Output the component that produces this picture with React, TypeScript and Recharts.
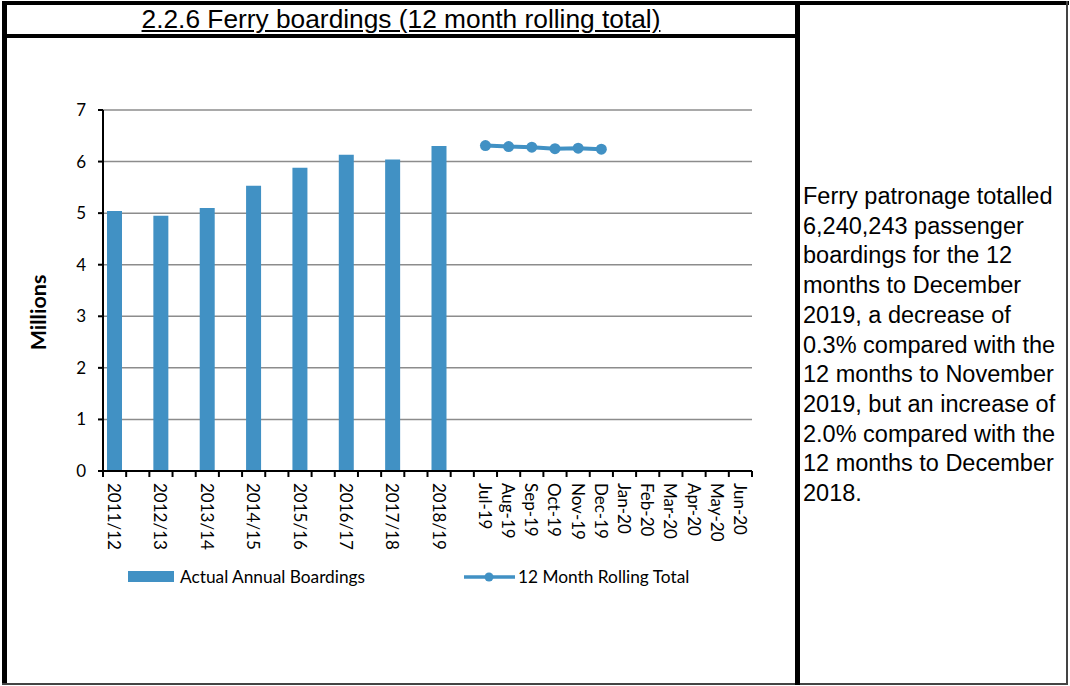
import React from "react";
import { ComposedChart, Bar, Line, XAxis, YAxis, CartesianGrid, Legend } from "recharts";

// slots on the category axis (blank slots sit between the financial years)
const periods = [
  "2011/12", "", "2012/13", "", "2013/14", "", "2014/15", "", "2015/16", "",
  "2016/17", "", "2017/18", "", "2018/19", "",
  "Jul-19", "Aug-19", "Sep-19", "Oct-19", "Nov-19", "Dec-19",
  "Jan-20", "Feb-20", "Mar-20", "Apr-20", "May-20", "Jun-20",
];

// Actual annual boardings (millions)
const annualBoardings = [
  5.04, null, 4.95, null, 5.1, null, 5.53, null, 5.88, null,
  6.13, null, 6.04, null, 6.3, null,
  null, null, null, null, null, null, null, null, null, null, null, null,
];

// 12 month rolling total (millions)
const rollingTotal = [
  null, null, null, null, null, null, null, null, null, null,
  null, null, null, null, null, null,
  6.31, 6.29, 6.28, 6.25, 6.26, 6.24,
  null, null, null, null, null, null,
];

const yTicks = [0, 1, 2, 3, 4, 5, 6, 7];

const summaryLines = [
  "Ferry patronage totalled",
  "6,240,243 passenger",
  "boardings for the 12",
  "months to December",
  "2019, a decrease of",
  "0.3% compared with the",
  "12 months to November",
  "2019, but an increase of",
  "2.0% compared with the",
  "12 months to December",
  "2018.",
];

const data = periods.map((label, i) => ({
  slot: i,
  label,
  annual: annualBoardings[i],
  rolling: rollingTotal[i],
}));

const BLUE = "#4191C4";
const chartFont = "Lato, 'Open Sans', sans-serif";

function XTick(props: any) {
  const { x, y, payload, index } = props;
  const half = payload?.offset ?? 11.6;
  const isLast = index === periods.length - 1;
  return (
    <g>
      <line x1={x - half} x2={x - half} y1={y} y2={y + 6} stroke="#000" strokeWidth={2} />
      {isLast && <line x1={x + half} x2={x + half} y1={y} y2={y + 6} stroke="#000" strokeWidth={2} />}
      <text
        transform={`translate(${x},${y + 12}) rotate(90)`}
        textAnchor="start"
        dominantBaseline="central"
        fontSize={17}
        fontFamily={chartFont}
        fill="#000"
      >
        {periods[payload.value] ?? ""}
      </text>
    </g>
  );
}

function LegendBox() {
  return (
    <div style={{ position: "relative", width: 790, height: 24, fontFamily: chartFont, fontSize: 17.3, color: "#000" }}>
      <div style={{ position: "absolute", left: 128, top: 6, width: 46, height: 11, background: BLUE }} />
      <span style={{ position: "absolute", left: 180, top: 0, lineHeight: "24px", whiteSpace: "nowrap" }}>
        Actual Annual Boardings
      </span>
      <svg style={{ position: "absolute", left: 463, top: 0 }} width={53} height={24}>
        <line x1={1} x2={52} y1={12} y2={12} stroke={BLUE} strokeWidth={3.5} />
        <circle cx={26} cy={12} r={4.5} fill={BLUE} />
      </svg>
      <span style={{ position: "absolute", left: 518, top: 0, lineHeight: "24px", whiteSpace: "nowrap" }}>
        12 Month Rolling Total
      </span>
    </div>
  );
}

const bar = (s: React.CSSProperties) => <div style={{ position: "absolute", ...s }} />;

export default function App() {
  return (
    <div style={{ position: "absolute", left: 0, top: 0, width: 1070, height: 686, background: "#fff", overflow: "hidden" }}>
      <div style={{ position: "absolute", left: 0, top: 0 }}>
        <ComposedChart
          width={790}
          height={640}
          data={data}
          margin={{ top: 110, right: 38, left: 23, bottom: 89 }}
        >
          <CartesianGrid horizontal vertical={false} stroke="#8c8c8c" strokeWidth={1.5} />
          <XAxis
            dataKey="slot"
            type="category"
            interval={0}
            height={80}
            tickLine={false}
            tickSize={0}
            tickMargin={0}
            axisLine={{ stroke: "#000", strokeWidth: 2 }}
            tick={<XTick />}
          />
          <YAxis
            width={80}
            domain={[0, 7]}
            ticks={yTicks}
            interval={0}
            tickSize={5}
            tickMargin={12}
            tickLine={{ stroke: "#000", strokeWidth: 2 }}
            axisLine={{ stroke: "#000", strokeWidth: 2 }}
            tick={{ fill: "#000", fontSize: 17, fontFamily: chartFont }}
            label={{
              content: (p: any) => {
                const vb = p.viewBox || { x: 23, y: 110, width: 80, height: 361 };
                const cx = vb.x + 15;
                const cy = vb.y + vb.height / 2 + 22;
                return (
                  <text
                    x={cx}
                    y={cy}
                    transform={`rotate(-90, ${cx}, ${cy})`}
                    textAnchor="middle"
                    dominantBaseline="central"
                    fontSize={21.5}
                    fontWeight="bold"
                    fontFamily={chartFont}
                    fill="#000"
                  >
                    Millions
                  </text>
                );
              },
            }}
          />
          <Legend
            layout="horizontal"
            verticalAlign="middle"
            content={<LegendBox />}
            wrapperStyle={{ left: 0, top: 565, width: 790, height: 24 }}
          />
          <Bar dataKey="annual" name="Actual Annual Boardings" fill={BLUE} barSize={15} isAnimationActive={false} />
          <Line
            dataKey="rolling"
            name="12 Month Rolling Total"
            stroke={BLUE}
            strokeWidth={4}
            dot={{ r: 5.5, fill: BLUE, stroke: BLUE, strokeWidth: 0 }}
            activeDot={false}
            isAnimationActive={false}
          />
        </ComposedChart>
      </div>

      {/* table frame */}
      {bar({ left: 2, top: 1, width: 1067, height: 4, background: "#000" })}
      {bar({ left: 2, top: 1, width: 5, height: 684, background: "#000" })}
      {bar({ left: 1066, top: 1, width: 2, height: 684, background: "#444" })}
      {bar({ left: 2, top: 683, width: 1066, height: 2, background: "#444" })}
      {bar({ left: 2, top: 34, width: 797, height: 4, background: "#000" })}
      {bar({ left: 795, top: 1, width: 5, height: 684, background: "#000" })}

      <div
        style={{
          position: "absolute",
          left: 7,
          top: 5,
          width: 788,
          height: 29,
          lineHeight: "29px",
          textAlign: "center",
          fontFamily: "'Liberation Sans', Arial, sans-serif",
          fontSize: 26.3,
          textDecoration: "underline",
          whiteSpace: "nowrap",
          color: "#000",
        }}
      >
        2.2.6 Ferry boardings (12 month rolling total)
      </div>

      <div
        style={{
          position: "absolute",
          left: 803,
          top: 182,
          width: 262,
          fontFamily: "'Liberation Sans', Arial, sans-serif",
          fontSize: 23.5,
          lineHeight: "29.7px",
          color: "#000",
          whiteSpace: "nowrap",
        }}
      >
        {summaryLines.map((l, i) => (
          <div key={i}>{l}</div>
        ))}
      </div>
    </div>
  );
}
